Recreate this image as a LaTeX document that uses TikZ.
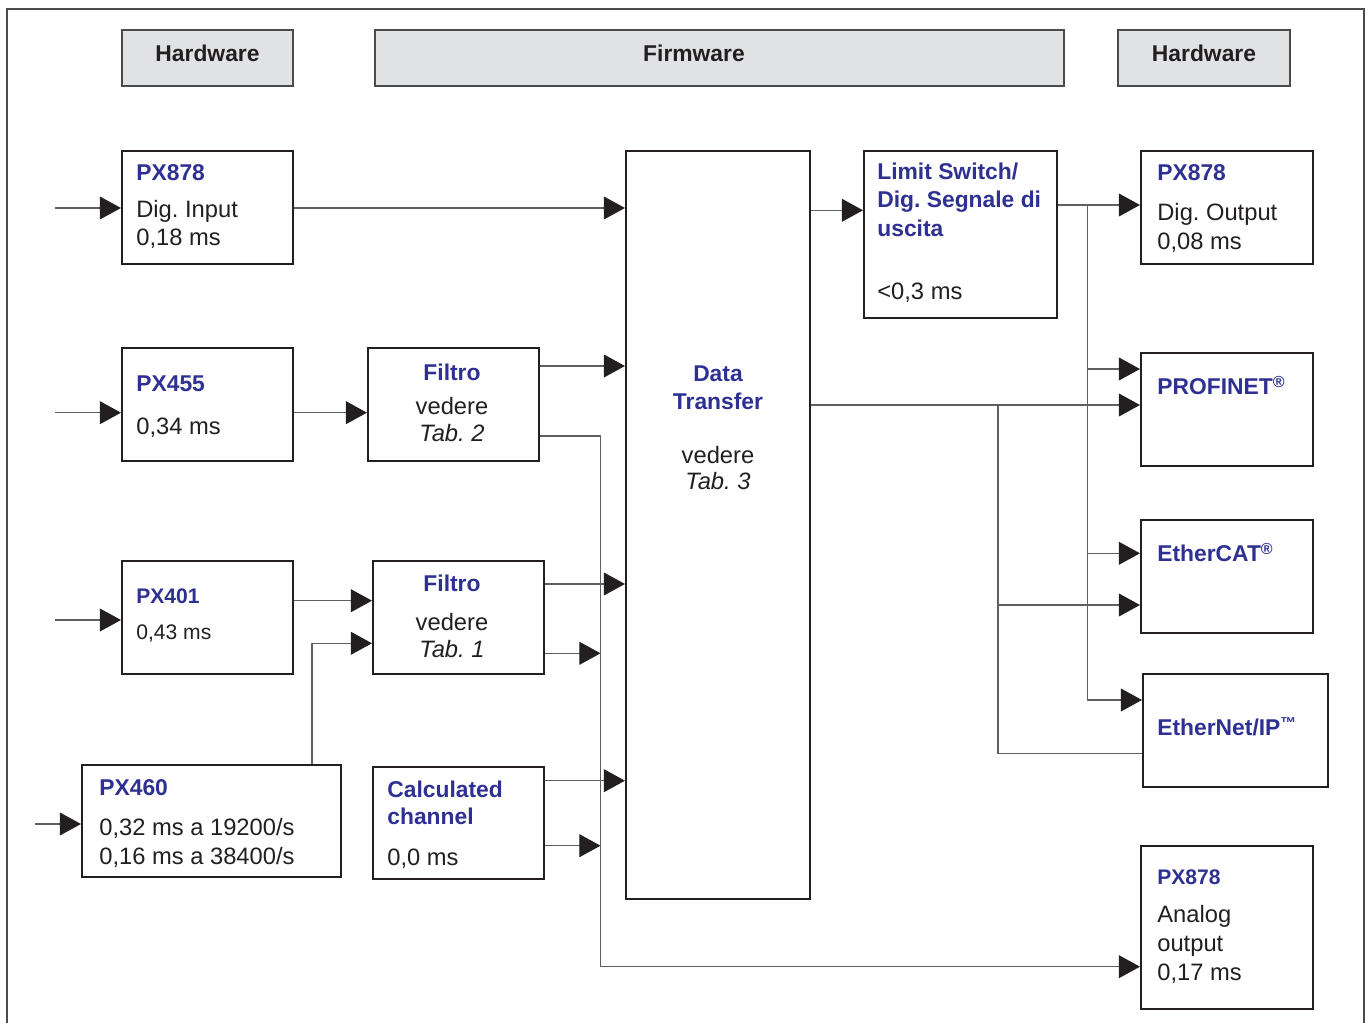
\documentclass[tikz,border=0pt]{standalone}
\usepackage{fontspec}
\setmainfont{Liberation Sans}
\usepackage{tikz}
\usetikzlibrary{arrows.meta,positioning,calc}
\frenchspacing
\definecolor{titleblue}{RGB}{46,49,146}
\definecolor{boxline}{RGB}{35,31,32}
\definecolor{wire}{RGB}{95,95,95}
\definecolor{headfill}{RGB}{225,226,228}
\definecolor{headline}{RGB}{75,75,75}
\newcommand{\ttl}[2][13]{{\fontsize{#1}{16.4}\selectfont\bfseries\color{titleblue}#2}}
\tikzstyle{header} = [rectangle, draw=headline, line width=0.8pt, fill=headfill,
                      minimum height=1.12cm, text height=9.5pt, text depth=5pt,
                      font=\fontsize{13}{16}\selectfont\bfseries, text=boxline]
\tikzstyle{headtxt} = [inner sep=0pt, text height=9.5pt, text depth=5pt,
                       font=\fontsize{13}{16}\selectfont\bfseries, text=boxline]
\tikzstyle{block} = [rectangle, draw=boxline, line width=1.2pt, fill=white,
                     minimum width=3.42cm, minimum height=2.26cm, inner sep=0pt]
\tikzstyle{txt} = [anchor=base west, inner sep=0pt, align=left, text=boxline,
                   font=\fontsize{13.5}{16.4}\selectfont]
\tikzstyle{link} = [line width=0.6pt, color=wire]
\tikzstyle{arrow} = [line width=0.6pt, color=wire,
                     -{Triangle[length=12pt, width=13pt, color=boxline]}]

\begin{document}
\begin{tikzpicture}[x=0.02cm, y=-0.02cm]
                \useasboundingbox (0,0) rectangle (1370,1023);
                % outer frame, open at the bottom
                \draw[line width=0.9pt, color=headline] (7,1023) |- (1364,9) -- (1364,1023);

                % Column headers
                \node[header, minimum width=3.42cm] (hwL) at (207.5,58) {Hardware};
                \node[header, minimum width=13.78cm] (fw) at (719.5,58) {};
                \node[headtxt] (fwtxt) at (694,58) {Firmware};
                \node[header, minimum width=3.44cm] (hwR) at (1204,58) {Hardware};

                % Input side
                \node[block] (in878) at (207.5,207.5) {};
                \node[block] (in455) at (207.5,404.5) {};
                \node[block] (filt2) at (453.5,404.5) {};
                \node[block] (in401) at (207.5,617.5) {};
                \node[block] (filt1) at (458.5,617.5) {};
                \node[block, minimum width=5.18cm, minimum height=2.24cm] (in460) at (211.5,821) {};
                \node[block, minimum height=2.24cm] (calc) at (458.5,823) {};

                % Data Transfer
                \node[block, minimum width=3.68cm, minimum height=14.96cm] (dt) at (718,525) {};

                % Output side
                \node[block, minimum width=3.86cm, minimum height=3.34cm] (lim) at (960.5,234.5) {};
                \node[block, minimum width=3.44cm] (out878) at (1227,207.5) {};
                \node[block, minimum width=3.44cm] (pnet) at (1227,409.5) {};
                \node[block, minimum width=3.44cm] (ecat) at (1227,576.5) {};
                \node[block, minimum width=3.70cm] (enip) at (1235.5,730.5) {};
                \node[block, minimum width=3.44cm, minimum height=3.26cm] (ana) at (1227,927.5) {};

                % Box texts (placed at the baseline of their last line)
                \node[txt] (in878txt) at (136,246) {\ttl{PX878}\\[4.3pt]Dig. Input\\0,18 ms};
                \node[txt] (in455txt) at (136,435) {\ttl{PX455}\\[8.2pt]0,34 ms};
                \node[txt, anchor=base, align=center] (filt2txt) at (452,441.7) {\ttl{Filtro}\\[3.1pt]vedere\\[-1.2pt]\textit{Tab. 2}};
                \node[txt, font=\fontsize{12}{16.4}\selectfont] (in401txt) at (136,639.3) {\ttl[12]{PX401}\\[4.1pt]0,43 ms};
                \node[txt, anchor=base, align=center] (filt1txt) at (452,657.3) {\ttl{Filtro}\\[5.4pt]vedere\\[-0.9pt]\textit{Tab. 1}};
                \node[txt] (in460txt) at (99,864) {\ttl{PX460}\\[6.4pt]0,32 ms a 19200/s\\0,16 ms a 38400/s};
                \node[txt] (calctxt) at (387,865) {\ttl{Calculated}\\[-0.6pt]\ttl{channel}\\[6.4pt]0,0 ms};
                \node[txt, anchor=base, align=center] (dttxt) at (718,490) {\ttl{Data}\\[-0.9pt]\ttl{Transfer}\\[14.5pt]vedere\\[-1.2pt]\textit{Tab. 3}};
                \node[txt] (limtxt) at (877,300) {\ttl{Limit Switch/}\\\ttl{Dig. Segnale di}\\\ttl{uscita}\\[19.6pt]<0,3 ms};
                \node[txt] (out878txt) at (1157,249.3) {\ttl{PX878}\\[6.4pt]Dig. Output\\0,08 ms};
                \node[txt] (pnettxt) at (1157,395) {\ttl{PROFINET\textsuperscript{®}}};
                \node[txt] (ecattxt) at (1157,561.7) {\ttl{EtherCAT\textsuperscript{®}}};
                \node[txt] (eniptxt) at (1157,736) {\ttl{EtherNet/IP\textsuperscript{\fontsize{9}{9}\selectfont™}}};
                \node[txt] (anatxt) at (1157,980) {\ttl[12]{PX878}\\[5.4pt]Analog\\output\\0,17 ms};

                % Bus lines
                \coordinate (busL) at (600.5,0);
                \coordinate (busM) at (998,0);
                \coordinate (busR) at (1087.5,0);

                % Sensor inputs
                \coordinate (src1) at (55,208);
                \coordinate (src2) at (55,412.7);
                \coordinate (src3) at (55,620);
                \coordinate (src4) at (35,824);
                \draw[arrow] (src1) -- (src1 -| in878.west);
                \draw[arrow] (src2) -- (src2 -| in455.west);
                \draw[arrow] (src3) -- (src3 -| in401.west);
                \draw[arrow] (src4) -- (src4 -| in460.west);

                % Into Data Transfer
                \draw[arrow] (in878.east |- src1) -- (dt.west |- src1);
                \draw[arrow] (in455.east |- src2) -- (filt2.west |- src2);
                \draw[arrow] (filt2.east |- 0,366) -- (dt.west |- 0,366);
                \draw[arrow] (filt2.east |- 0,436) -| (busL |- 0,966.7) -- (ana.west |- 0,966.7);
                \draw[arrow] (in401.east |- 0,600.7) -- (filt1.west |- 0,600.7);
                \draw[arrow] (in460.north -| 312,0) |- (filt1.west |- 0,643.3);
                \draw[arrow] (filt1.east |- 0,584) -- (dt.west |- 0,584);
                \draw[arrow] (filt1.east |- 0,653.3) -- (busL |- 0,653.3);
                \draw[arrow] (calc.east |- 0,780.7) -- (dt.west |- 0,780.7);
                \draw[arrow] (calc.east |- 0,845.7) -- (busL |- 0,845.7);

                % Out of Data Transfer
                \draw[arrow] (dt.east |- 0,210.3) -- (lim.west |- 0,210.3);
                \draw[arrow] (lim.east |- 0,205) -- (out878.west |- 0,205);
                \draw[arrow] (busR |- 0,205) |- (enip.west |- 0,700);
                \draw[arrow] (busR |- 0,369) -- (pnet.west |- 0,369);
                \draw[arrow] (busR |- 0,553.3) -- (ecat.west |- 0,553.3);
                \draw[arrow] (dt.east |- 0,405) -- (pnet.west |- 0,405);
                \draw[link] (busM |- 0,405) |- (enip.west |- 0,753.3);
                \draw[arrow] (busM |- 0,605) -- (ecat.west |- 0,605);
\end{tikzpicture}
\end{document}
